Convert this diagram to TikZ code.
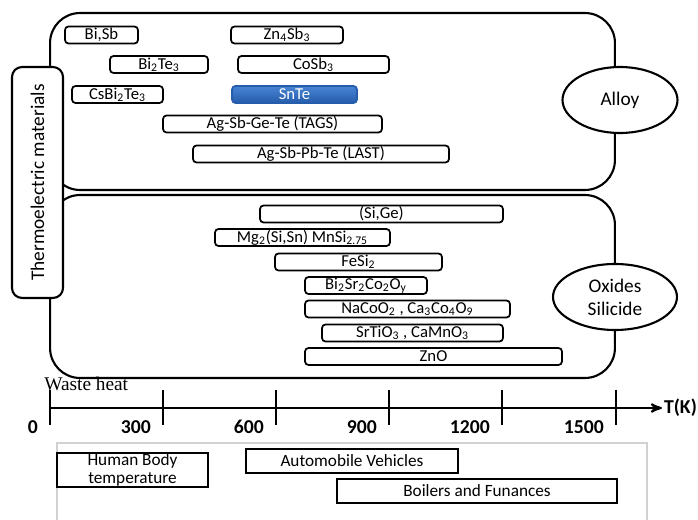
\documentclass[tikz,border=0pt]{standalone}
\usepackage{fontspec}
\setmainfont{Carlito}
\newfontfamily\serifwaste{Liberation Serif}
\usepackage{xcolor}
\definecolor{colorSnTeTop}{RGB}{72,132,212}
\definecolor{colorSnTeBottom}{RGB}{38,92,172}
\colorlet{colorPanel}{black!18}
\usepackage{tikz}
\usetikzlibrary{arrows, shapes.geometric, positioning}
\tikzset{
  group/.style={draw, line width=1.2pt, rounded corners=0.6cm, inner sep=0pt},
  item/.style={draw, line width=1pt, rounded corners=2pt, inner sep=0pt, minimum height=0.34cm, font=\fontsize{9.5}{11}\selectfont},
  heat/.style={draw, line width=1.1pt, inner sep=0pt, minimum height=0.48cm, align=center, font=\fontsize{9.8}{10.5}\selectfont},
  family/.style={draw, fill=white, line width=1.2pt, ellipse, inner sep=0pt, align=center, font=\fontsize{11}{13}\selectfont},
  tick/.style={line width=1.3pt},
  ticklabel/.style={anchor=east, font=\fontsize{11.2}{13}\selectfont\bfseries}
}

\begin{document}
\begin{tikzpicture}[x=0.02cm, y=-0.02cm, >=stealth']
\useasboundingbox (0,0) rectangle (698,520);
\fill[white] (0,0) rectangle (698,520);

\node[group, minimum width=11.3cm, minimum height=3.54cm] (alloyBox) at (332.5,101.5) {};
\node[group, minimum width=11.3cm, minimum height=3.66cm] (oxideBox) at (332.5,286.5) {};

\node[item, minimum width=1.46cm] (biSb) at (101.5,35) {Bi,Sb};
\node[item, minimum width=2.24cm] (znSb) at (287,35) {Zn\textsubscript{4}Sb\textsubscript{3}};
\node[item, minimum width=1.96cm] (biTe) at (159,64.5) {Bi\textsubscript{2}Te\textsubscript{3}};
\node[item, minimum width=3.02cm] (coSb) at (313.5,64.5) {CoSb\textsubscript{3}};
\node[item, minimum width=1.82cm] (csBiTe) at (117.5,94.5) {CsBi\textsubscript{2}Te\textsubscript{3}};
\node[item, minimum width=2.5cm, draw=colorSnTeBottom, top color=colorSnTeTop, bottom color=colorSnTeBottom, text=white] (snTe) at (294.5,94.5) {SnTe};
\node[item, minimum width=4.38cm] (tags) at (272.5,124) {Ag-Sb-Ge-Te (TAGS)};
\node[item, minimum width=5.12cm] (last) at (321,154) {Ag-Sb-Pb-Te (LAST)};

\node[item, minimum width=4.86cm] (siGe) at (381.5,214) {(Si,Ge)};
\node[item, minimum width=3.5cm] (mgSi) at (302.5,237.5) {Mg\textsubscript{2}(Si,Sn) MnSi\textsubscript{2.75}};
\node[item, minimum width=3.34cm] (feSi) at (358.5,262) {FeSi\textsubscript{2}};
\node[item, minimum width=2.44cm] (biSrCo) at (366,285.5) {Bi\textsubscript{2}Sr\textsubscript{2}Co\textsubscript{2}O\textsubscript{y}};
\node[item, minimum width=4.1cm] (naCo) at (407.5,309) {NaCoO\textsubscript{2} , Ca\textsubscript{3}Co\textsubscript{4}O\textsubscript{9}};
\node[item, minimum width=3.62cm] (srTi) at (412.5,333) {SrTiO\textsubscript{3} , CaMnO\textsubscript{3}};
\node[item, minimum width=5.14cm] (znO) at (433.5,356.5) {ZnO};

\node[family, minimum width=2.3cm, minimum height=1.32cm] (alloy) at (620,100) {Alloy};
\node[family, minimum width=2.48cm, minimum height=1.32cm] (oxides) at (615,297) {Oxides\\Silicide};

\node[draw, fill=white, line width=1.2pt, rounded corners=0.2cm, rotate=90, minimum width=4.62cm, minimum height=1.02cm, font=\fontsize{11}{13}\selectfont] (thermo) at (37.5,182.5) {Thermoelectric materials};

\node[anchor=west, inner sep=0pt, font=\serifwaste\fontsize{11}{13}\selectfont] (waste) at (44,384) {Waste heat};

\coordinate (axisStart) at (50,408);
\coordinate (axisEnd) at (662,408);
\draw[->, line width=1.2pt] (axisStart) -- (axisEnd);
\node[anchor=west, inner sep=1pt, font=\fontsize{11.2}{13}\selectfont\bfseries] (tk) at (axisEnd) {T(K)};
\foreach \x/\t in {50/0, 163/300, 276/600, 389/900, 502/1200, 616/1500}
{
  \draw[tick] (\x,390) -- (\x,425);
  \node[ticklabel] (lbl\t) at (\x-6,427) {\t};
}

\draw[colorPanel, line width=1pt] (57,522) -- (57,443) -- (647,443) -- (647,522);
\node[heat, minimum width=3.02cm, minimum height=0.6cm] (human) at (132.5,470) {Human Body\\temperature};
\node[heat, minimum width=4.24cm] (auto) at (352,461) {Automobile Vehicles};
\node[heat, minimum width=5.6cm] (boilers) at (477,491) {Boilers and Funances};
\end{tikzpicture}
\end{document}
